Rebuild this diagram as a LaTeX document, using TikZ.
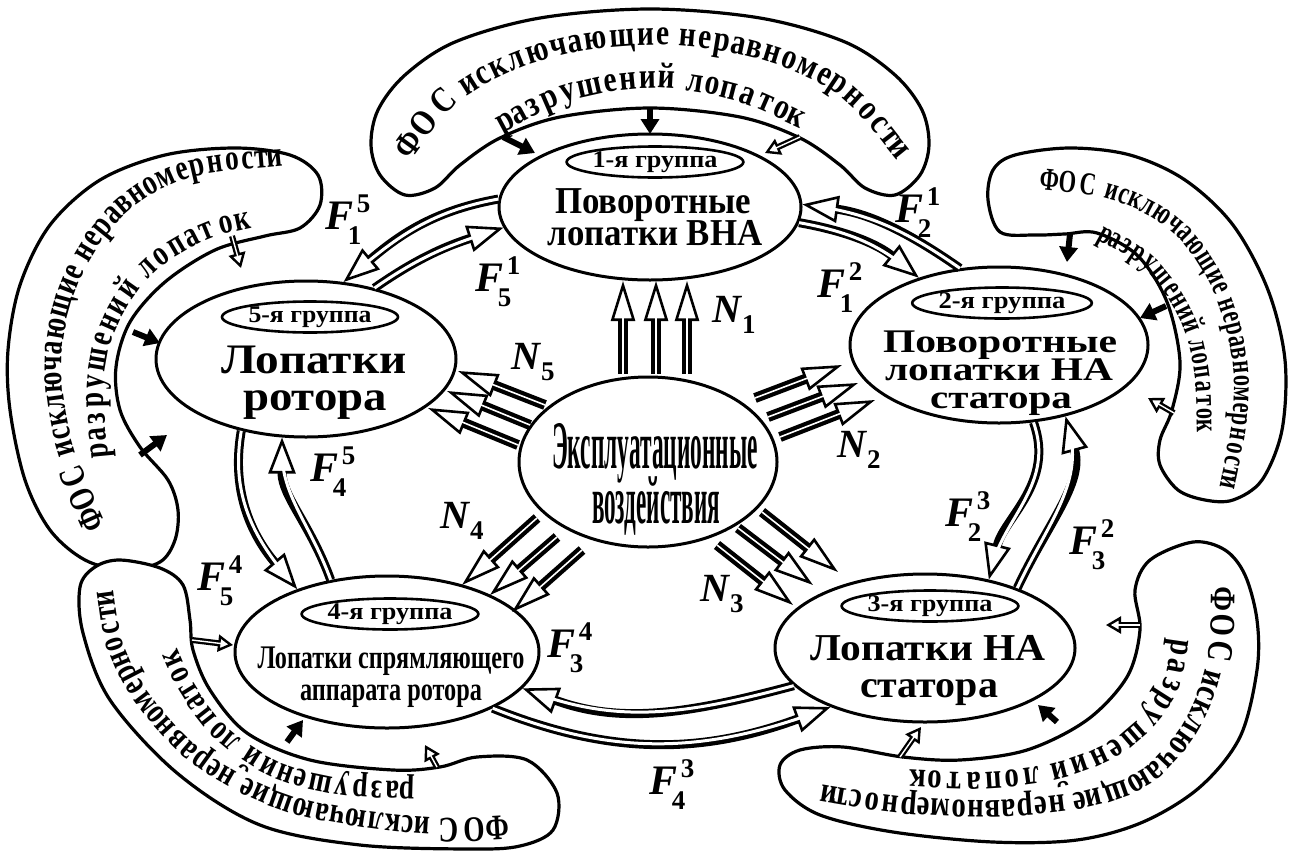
\documentclass[tikz,border=0pt]{standalone}
\usepackage{graphicx}
\usepackage{fontspec}
\setmainfont{Liberation Serif}
\usetikzlibrary{shapes.geometric,arrows.meta}

% bold text of a given size, and a line squeezed or stretched to a given width
\newcommand\bsz[1]{\fontsize{#1}{#1}\selectfont\bfseries}
\newcommand\fitw[2]{\resizebox{#1pt}{\height}{#2}}
% force labels F_sub^sup and N_sub
\newcommand\flab[2]{\mbox{\bsz{42}\itshape F\rlap{\kern-6pt\raisebox{-15pt}{\upshape\bsz{27}#1}}\kern3pt\raisebox{17pt}{\upshape\bsz{27}#2}}}
\newcommand\nlab[1]{\mbox{\bsz{40}\itshape N\kern1pt\raisebox{-11pt}{\upshape\bsz{27}#1}}}

% \fospath{xs}{ys}{font}{x-scale}{text}: sets the text letter by letter along
% a Catmull-Rom curve through the given points, spread over its whole length
\ExplSyntaxOn
\clist_new:N \l__fos_px_clist
\clist_new:N \l__fos_py_clist
\seq_new:N \l__fos_words_seq
\seq_new:N \l__fos_chars_seq
\int_new:N \l__fos_n_int
\int_new:N \l__fos_k_int
\int_new:N \l__fos_a_int
\int_new:N \l__fos_d_int
\bool_new:N \l__fos_meas_bool
\fp_new:N \l__fos_xa_fp
\fp_new:N \l__fos_xb_fp
\fp_new:N \l__fos_xc_fp
\fp_new:N \l__fos_xd_fp
\fp_new:N \l__fos_ya_fp
\fp_new:N \l__fos_yb_fp
\fp_new:N \l__fos_yc_fp
\fp_new:N \l__fos_yd_fp
\fp_new:N \l__fos_u_fp
\fp_new:N \l__fos_q_fp
\fp_new:N \l__fos_len_fp
\fp_new:N \l__fos_acc_fp
\fp_new:N \l__fos_wsum_fp
\fp_new:N \l__fos_tsum_fp
\fp_new:N \l__fos_cum_fp
\fp_new:N \l__fos_w_fp
\fp_new:N \l__fos_s_fp
\box_new:N \l__fos_box

\cs_new:Npn \__fos_cr:nnnnn #1#2#3#4#5
  { 0.5 * ( 2*(#2) + ((#3)-(#1))*(#5) + (2*(#1)-5*(#2)+4*(#3)-(#4))*(#5)^2 + (3*(#2)-(#1)-3*(#3)+(#4))*(#5)^3 ) }
\cs_new:Npn \__fos_dcr:nnnnn #1#2#3#4#5
  { 0.5 * ( ((#3)-(#1)) + 2*(2*(#1)-5*(#2)+4*(#3)-(#4))*(#5) + 3*(3*(#2)-(#1)-3*(#3)+(#4))*(#5)^2 ) }
\cs_new:Npn \__fos_chord:n #1
  {
    sqrt( ( ( \clist_item:Nn \l__fos_px_clist { #1 + 1 } ) - ( \clist_item:Nn \l__fos_px_clist { #1 } ) )^2
        + ( ( \clist_item:Nn \l__fos_py_clist { #1 + 1 } ) - ( \clist_item:Nn \l__fos_py_clist { #1 } ) )^2 )
  }
% rough advance widths of the bold letters, in em
\cs_new:Npn \__fos_tw:n #1
  {
    \str_case:nnF {#1}
      {
        {ш}{0.80} {щ}{0.82} {ю}{0.78} {ж}{0.80} {ы}{0.76} {м}{0.68}
        {Ф}{0.80} {О}{0.78} {С}{0.72}
        {с}{0.44} {е}{0.45} {з}{0.43} {г}{0.44} {т}{0.48} {а}{0.50}
        {о}{0.50} {р}{0.55} {у}{0.50}
        {\c_space_tl}{0.30}
      }
      {0.57}
  }

\cs_new_protected:Npn \__fos_place:nnnn #1#2#3#4
  { \node [rotate=#3, anchor=base, inner~sep=0pt] at (#1,#2) {#4}; }
\cs_generate_variant:Nn \__fos_place:nnnn { xxxn }

\cs_new_protected:Npn \__fos_measure:nnn #1#2#3
  {
    \hbox_set:Nn \l__fos_box
      { \pgfinterruptpicture \normalfont \scalebox{#1}[1]{#2 #3} \endpgfinterruptpicture }
  }

\NewDocumentCommand \fospath { m m m m m }
  {
    \clist_set:Nn \l__fos_px_clist {#1}
    \clist_set:Nn \l__fos_py_clist {#2}
    \int_set:Nn \l__fos_n_int { \clist_count:N \l__fos_px_clist }
    \fp_zero:N \l__fos_len_fp
    \int_step_inline:nn { \l__fos_n_int - 1 }
      { \fp_add:Nn \l__fos_len_fp { \__fos_chord:n { ##1 } } }
    % split the text into letters, a space between words
    \seq_set_split:Nnn \l__fos_words_seq { ~ } {#5}
    \seq_clear:N \l__fos_chars_seq
    \seq_map_indexed_inline:Nn \l__fos_words_seq
      {
        \int_compare:nNnT {##1} > {1}
          { \seq_put_right:Nn \l__fos_chars_seq { \c_space_tl } }
        \tl_map_inline:nn {##2}
          { \seq_put_right:Nn \l__fos_chars_seq {####1} }
      }
    \fp_zero:N \l__fos_wsum_fp
    \fp_zero:N \l__fos_tsum_fp
    \seq_map_inline:Nn \l__fos_chars_seq
      {
        \__fos_measure:nnn {#4} {#3} {##1}
        \fp_add:Nn \l__fos_wsum_fp { \dim_to_fp:n { \box_wd:N \l__fos_box } }
        \fp_add:Nn \l__fos_tsum_fp { \__fos_tw:n {##1} }
      }
    \bool_set:Nn \l__fos_meas_bool { \fp_compare_p:nNn { \l__fos_wsum_fp } > { 1 } }
    \bool_if:NF \l__fos_meas_bool { \fp_set_eq:NN \l__fos_wsum_fp \l__fos_tsum_fp }
    \fp_zero:N \l__fos_cum_fp
    \seq_map_inline:Nn \l__fos_chars_seq
      {
        \bool_if:NTF \l__fos_meas_bool
          {
            \__fos_measure:nnn {#4} {#3} {##1}
            \fp_set:Nn \l__fos_w_fp { \dim_to_fp:n { \box_wd:N \l__fos_box } }
          }
          { \fp_set:Nn \l__fos_w_fp { \__fos_tw:n {##1} } }
        \fp_set:Nn \l__fos_q_fp { ( \l__fos_cum_fp + \l__fos_w_fp / 2 ) / \l__fos_wsum_fp }
        \fp_set:Nn \l__fos_s_fp { \l__fos_q_fp * \l__fos_len_fp }
        \int_set:Nn \l__fos_k_int { 1 }
        \fp_zero:N \l__fos_acc_fp
        \bool_while_do:nn
          {
            \int_compare_p:nNn { \l__fos_k_int } < { \l__fos_n_int - 1 }
            &&
            \fp_compare_p:nNn { \l__fos_s_fp } > { \l__fos_acc_fp + \__fos_chord:n { \l__fos_k_int } }
          }
          {
            \fp_add:Nn \l__fos_acc_fp { \__fos_chord:n { \l__fos_k_int } }
            \int_incr:N \l__fos_k_int
          }
        \fp_set:Nn \l__fos_u_fp { ( \l__fos_s_fp - \l__fos_acc_fp ) / ( \__fos_chord:n { \l__fos_k_int } ) }
        \int_set:Nn \l__fos_a_int { \int_max:nn { \l__fos_k_int - 1 } { 1 } }
        \int_set:Nn \l__fos_d_int { \int_min:nn { \l__fos_k_int + 2 } { \l__fos_n_int } }
        \fp_set:Nn \l__fos_xa_fp { \clist_item:Nn \l__fos_px_clist { \l__fos_a_int } }
        \fp_set:Nn \l__fos_xb_fp { \clist_item:Nn \l__fos_px_clist { \l__fos_k_int } }
        \fp_set:Nn \l__fos_xc_fp { \clist_item:Nn \l__fos_px_clist { \l__fos_k_int + 1 } }
        \fp_set:Nn \l__fos_xd_fp { \clist_item:Nn \l__fos_px_clist { \l__fos_d_int } }
        \fp_set:Nn \l__fos_ya_fp { \clist_item:Nn \l__fos_py_clist { \l__fos_a_int } }
        \fp_set:Nn \l__fos_yb_fp { \clist_item:Nn \l__fos_py_clist { \l__fos_k_int } }
        \fp_set:Nn \l__fos_yc_fp { \clist_item:Nn \l__fos_py_clist { \l__fos_k_int + 1 } }
        \fp_set:Nn \l__fos_yd_fp { \clist_item:Nn \l__fos_py_clist { \l__fos_d_int } }
        \__fos_place:xxxn
          { \fp_eval:n { round( \__fos_cr:nnnnn { \l__fos_xa_fp } { \l__fos_xb_fp } { \l__fos_xc_fp } { \l__fos_xd_fp } { \l__fos_u_fp } , 2 ) } }
          { \fp_eval:n { round( \__fos_cr:nnnnn { \l__fos_ya_fp } { \l__fos_yb_fp } { \l__fos_yc_fp } { \l__fos_yd_fp } { \l__fos_u_fp } , 2 ) } }
          { \fp_eval:n { round( atand(
               \__fos_dcr:nnnnn { \l__fos_ya_fp } { \l__fos_yb_fp } { \l__fos_yc_fp } { \l__fos_yd_fp } { \l__fos_u_fp } ,
               \__fos_dcr:nnnnn { \l__fos_xa_fp } { \l__fos_xb_fp } { \l__fos_xc_fp } { \l__fos_xd_fp } { \l__fos_u_fp } ) , 2 ) } }
          { \scalebox{#4}[1]{#3 ##1} }
        \fp_add:Nn \l__fos_cum_fp { \l__fos_w_fp }
      }
  }
\ExplSyntaxOff

\tikzset{
  grp/.style={ellipse, draw, line width=3pt, inner sep=0pt, fill=white},
  tag/.style={ellipse, draw, line width=2.6pt, inner sep=0pt, minimum width=176pt, minimum height=31pt},
  band/.style={draw, line width=3.2pt, fill=white, line join=round},
  link/.style={draw=black, line width=9pt,
    -{Triangle[length=36pt, width=27pt, line width=2.6pt, fill=white]},
    postaction={draw=white, line width=3pt, -, shorten >=15pt}},
  push/.style={draw=black, line width=10pt,
    -{Triangle[length=40pt, width=24pt, line width=2.6pt, fill=white]},
    postaction={draw=white, line width=1.6pt, -, shorten >=18pt}},
  hints/.style={draw=black, line width=6pt, -{Triangle[length=15pt, width=18pt]}},
  hinto/.style={draw=black, line width=6pt,
    -{Triangle[length=15pt, width=17pt, line width=2.4pt, fill=white]},
    postaction={draw=white, line width=1.4pt, -, shorten >=6pt}},
}

\begin{document}
\begin{tikzpicture}[x=1pt,y=1pt]
\useasboundingbox (0,0) rectangle (1295,-854);
\fill[white] (0,0) rectangle (1295,-854);

% ---- feedback bands around the five groups ----
\draw[band] plot[smooth cycle, tension=0.55] coordinates {
  (405,-195) (380,-175) (371,-145) (378,-110) (405,-75) (455,-42) (540,-18) (650,-9)
  (760,-18) (845,-42) (895,-75) (922,-110) (929,-145) (920,-175) (895,-195)
  (865,-188) (840,-165) (800,-138) (740,-117) (650,-108) (560,-117) (500,-138) (460,-165) (435,-188)};
\draw[band] plot[smooth cycle, tension=0.55] coordinates {
  (175,-540) (160,-562) (125,-570) (85,-560) (50,-530) (25,-480) (10,-410) (8,-350)
  (20,-285) (50,-225) (100,-180) (165,-155) (235,-148) (290,-155) (318,-175) (320,-205)
  (300,-228) (265,-236) (215,-250) (165,-282) (130,-322) (116,-367) (120,-410) (140,-447)
  (168,-480) (178,-510)};
\draw[band] plot[smooth cycle, tension=0.55] coordinates {
  (1000,-232) (988,-200) (993,-170) (1015,-155) (1070,-148) (1130,-155) (1185,-180)
  (1233,-225) (1268,-290) (1285,-360) (1282,-430) (1262,-480) (1233,-500) (1205,-500)
  (1178,-490) (1160,-465) (1160,-440) (1172,-410) (1180,-362) (1167,-302) (1138,-256)
  (1097,-233) (1065,-234) (1035,-235)};
\draw[band] plot[smooth cycle, tension=0.55] coordinates {
  (1140,-630) (1135,-590) (1150,-560) (1193,-542) (1225,-550) (1245,-575) (1257,-620)
  (1257,-670) (1240,-737) (1200,-787) (1143,-822) (1077,-840) (993,-842) (893,-832)
  (820,-815) (785,-790) (780,-765) (800,-750) (843,-747) (903,-757) (960,-760)
  (1027,-750) (1087,-720) (1127,-677)};
\draw[band] plot[smooth cycle, tension=0.55] coordinates {
  (477,-757) (527,-760) (557,-793) (553,-830) (520,-846) (470,-849) (360,-845) (260,-825)
  (177,-773) (110,-700) (83,-633) (80,-587) (95,-567) (120,-560) (160,-568) (183,-585)
  (190,-620) (193,-650) (210,-690) (247,-733) (310,-760) (393,-770) (440,-767)};

% ---- band captions ----
\fospath{412,462,545,650,755,838,895}{-158,-100,-60,-45,-58,-95,-158}
  {\bsz{36}}{0.82}{ФОС исключающие неравномерности}
\fospath{505,570,650,730,797}{-132,-101,-88,-99,-127}
  {\bsz{36}}{0.82}{разрушени^^^^0439 лопаток}
\fospath{105,72,62,80,125,190,280}{-522,-440,-357,-280,-215,-178,-166}
  {\bsz{36}}{0.76}{ФОС исключающие неравномерности}
\fospath{108,104,116,151,205,250}{-455,-388,-330,-276,-241,-228}
  {\bsz{36}}{0.76}{разрушени^^^^0439 лопаток}
\fospath{1042,1112,1172,1212,1232,1232,1220}{-190,-200,-232,-288,-358,-420,-485}
  {\bsz{32}}{0.7}{ФОС исключающие неравномерности}
\fospath{1098,1146,1180,1194,1197}{-240,-270,-320,-372,-430}
  {\bsz{32}}{0.7}{разрушени^^^^0439 лопаток}
\fospath{1212,1208,1188,1148,1090,1000,905,825}{-590,-655,-715,-765,-790,-800,-797,-785}
  {\bsz{36}}{0.8}{ФОС исключающие неравномерности}
\fospath{1172,1160,1120,1060,985,912}{-640,-690,-735,-762,-772,-770}
  {\bsz{36}}{0.8}{разрушени^^^^0439 лопаток}
\fospath{505,440,360,280,205,152,124,114}{-816,-818,-810,-792,-752,-697,-645,-592}
  {\bsz{36}}{0.76}{ФОС исключающие неравномерности}
\fospath{412,340,275,225,195,178}{-782,-778,-760,-725,-685,-650}
  {\bsz{36}}{0.76}{разрушени^^^^0439 лопаток}

% ---- group ellipses ----
\node[grp, minimum width=302pt, minimum height=146pt] (N1) at (650,-207) {};
\node[grp, minimum width=300pt, minimum height=156pt] (N5) at (306,-359) {};
\node[grp, minimum width=298pt, minimum height=156pt] (N2) at (999,-345) {};
\node[grp, minimum width=300pt, minimum height=148pt] (N3) at (925,-648) {};
\node[grp, minimum width=304pt, minimum height=152pt] (N4) at (387,-652) {};
\node[grp, minimum width=258pt, minimum height=170pt] (NC) at (648,-462) {};

\node[tag] (T1) at (655,-162) {\fitw{125}{\bsz{24}1-я группа}};
\node[tag] (T5) at (310,-317) {\fitw{123}{\bsz{24}5-я группа}};
\node[tag] (T2) at (1002,-303) {\fitw{127}{\bsz{24}2-я группа}};
\node[tag] (T3) at (930,-606) {\fitw{125}{\bsz{24}3-я группа}};
\node[tag] (T4) at (390,-614) {\fitw{125}{\bsz{24}4-я группа}};

\node[anchor=base, inner sep=0] (N1a) at (653,-213) {\fitw{196}{\bsz{38}Поворотные}};
\node[anchor=base, inner sep=0] (N1b) at (655,-245) {\fitw{215}{\bsz{38}лопатки ВНА}};
\node[anchor=base, inner sep=0] (N2a) at (1000,-352) {\fitw{234}{\bsz{33}Поворотные}};
\node[anchor=base, inner sep=0] (N2b) at (999,-380) {\fitw{228}{\bsz{33}лопатки НА}};
\node[anchor=base, inner sep=0] (N2c) at (1001,-408) {\fitw{142}{\bsz{33}статора}};
\node[anchor=base, inner sep=0] (N5a) at (314,-373) {\fitw{185}{\bsz{42}Лопатки}};
\node[anchor=base, inner sep=0] (N5b) at (315,-410) {\fitw{144}{\bsz{42}ротора}};
\node[anchor=base, inner sep=0] (N3a) at (928,-660) {\fitw{235}{\bsz{38}Лопатки НА}};
\node[anchor=base, inner sep=0] (N3b) at (929,-697) {\fitw{138}{\bsz{38}статора}};
\node[anchor=base, inner sep=0] (N4a) at (391,-668) {\fitw{267}{\bsz{33}Лопатки спрямляющего}};
\node[anchor=base, inner sep=0] (N4b) at (391,-700) {\fitw{182}{\bsz{33}аппарата ротора}};
\node[anchor=base, inner sep=0] (NCa) at (655,-468) {\fitw{206}{\bsz{68}Эксплуатационные}};
\node[anchor=base, inner sep=0] (NCb) at (656,-523) {\fitw{128}{\bsz{68}воздействия}};

% ---- links between the groups ----
\draw[link] (N1.177) to[out=190,in=40] (N5.64);
\draw[link] (N5.46) to[out=35,in=198] (N1.188);
\draw[link] (N2.117) to[out=145,in=-8] (N1.1);
\draw[link] (N1.-6) to[out=-10,in=141] (N2.140);
\draw[link] (N2.-66) to[out=-70,in=76] (N3.47);
\draw[link] (N3.33) to[out=65,in=-75] (N2.-47);
\draw[link] (N3.196) to[out=195,in=-20] (N4.-15);
\draw[link] (N4.-28) to[out=-22,in=200] (N3.212);
\draw[link] (N5.228) to[out=-100,in=130] (N4.145);
\draw[link] (N4.128) to[out=110,in=-90] (N5.253);

\node (L15) at (348,-220) {\flab{1}{5}};
\node (L51) at (498,-282) {\flab{5}{1}};
\node (L21) at (918,-213) {\flab{2}{1}};
\node (L12) at (840,-288) {\flab{1}{2}};
\node (L23) at (968,-517) {\flab{2}{3}};
\node (L32) at (1092,-545) {\flab{3}{2}};
\node (L34) at (570,-648) {\flab{3}{4}};
\node (L43) at (672,-785) {\flab{4}{3}};
\node (L54) at (220,-581) {\flab{5}{4}};
\node (L45) at (333,-472) {\flab{4}{5}};

% ---- operating loads ----
\foreach \x [count=\i] in {623,656,687} {
  \coordinate (u\i) at (\x,-374); \coordinate (U\i) at (\x,-281);
  \draw[push] (u\i) -- (U\i);}
\coordinate (w1) at (545,-405); \coordinate (W1) at (458,-371);
\coordinate (w2) at (530,-425); \coordinate (W2) at (447,-391);
\coordinate (w3) at (518,-445); \coordinate (W3) at (428,-408);
\coordinate (e1) at (755,-398); \coordinate (E1) at (842,-365);
\coordinate (e2) at (768,-417); \coordinate (E2) at (858,-383);
\coordinate (e3) at (780,-437); \coordinate (E3) at (875,-400);
\coordinate (s1) at (537,-518); \coordinate (S1) at (462,-585);
\coordinate (s2) at (557,-537); \coordinate (S2) at (490,-595);
\coordinate (s3) at (582,-550); \coordinate (S3) at (512,-612);
\coordinate (r1) at (762,-512); \coordinate (R1) at (838,-572);
\coordinate (r2) at (738,-528); \coordinate (R2) at (813,-585);
\coordinate (r3) at (717,-545); \coordinate (R3) at (793,-605);
\foreach \p/\q in {w/W,e/E,s/S,r/R} {\foreach \i in {1,2,3} {\draw[push] (\p\i) -- (\q\i);}}

\node (LN1) at (734,-315) {\nlab{1}};
\node (LN5) at (533,-362) {\nlab{5}};
\node (LN2) at (859,-450) {\nlab{2}};
\node (LN4) at (462,-521) {\nlab{4}};
\node (LN3) at (722,-594) {\nlab{3}};

% ---- small arrows from the bands ----
\coordinate (a1) at (503,-137); \coordinate (A1) at (535,-153);
\coordinate (a2) at (650,-108); \coordinate (A2) at (650,-134);
\coordinate (a3) at (800,-137); \coordinate (A3) at (765,-153);
\draw[hints] (a1) -- (A1); \draw[hints] (a2) -- (A2); \draw[hinto] (a3) -- (A3);
\coordinate (b1) at (1070,-234); \coordinate (B1) at (1067,-262);
\coordinate (b2) at (1166,-306); \coordinate (B2) at (1140,-318);
\coordinate (b3) at (1174,-413); \coordinate (B3) at (1148,-398);
\draw[hints] (b1) -- (B1); \draw[hints] (b2) -- (B2); \draw[hinto] (b3) -- (B3);
\coordinate (c1) at (232,-236); \coordinate (C1) at (241,-268);
\coordinate (c2) at (133,-332); \coordinate (C2) at (160,-343);
\coordinate (c3) at (140,-455); \coordinate (C3) at (167,-435);
\draw[hinto] (c1) -- (C1); \draw[hints] (c2) -- (C2); \draw[hints] (c3) -- (C3);
\coordinate (d1) at (192,-640); \coordinate (D1) at (233,-645);
\coordinate (d2) at (287,-742); \coordinate (D2) at (303,-720);
\coordinate (d3) at (437,-767); \coordinate (D3) at (425,-745);
\draw[hinto] (d1) -- (D1); \draw[hints] (d2) -- (D2); \draw[hinto] (d3) -- (D3);
\coordinate (f1) at (1140,-625); \coordinate (F1) at (1106,-625);
\coordinate (f2) at (1057,-722); \coordinate (F2) at (1038,-705);
\coordinate (f3) at (900,-757); \coordinate (F3) at (921,-727);
\draw[hinto] (f1) -- (F1); \draw[hints] (f2) -- (F2); \draw[hinto] (f3) -- (F3);
\end{tikzpicture}
\end{document}
